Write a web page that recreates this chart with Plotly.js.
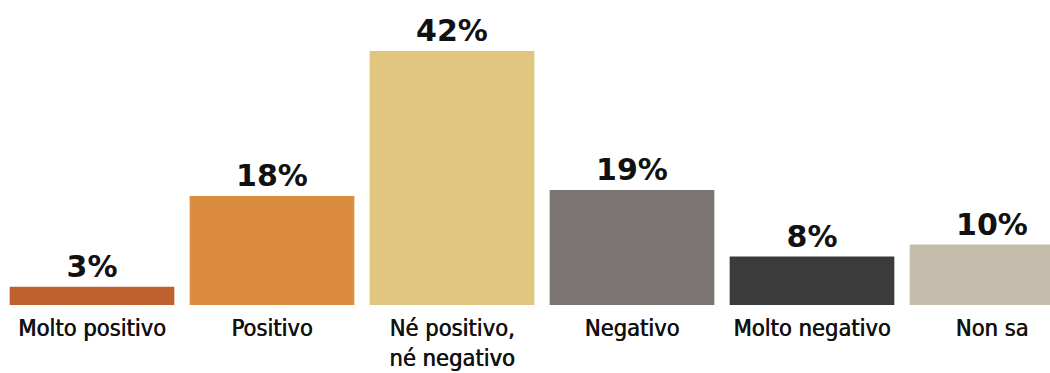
<!DOCTYPE html>
<html>
<head>
<meta charset="utf-8">
<script src="https://cdn.plot.ly/plotly-3.0.1.min.js"></script>
<style>
html,body{margin:0;padding:0;background:#fff;}
#chart{width:1050px;height:373px;}
</style>
</head>
<body>
<div id="chart"></div>
<script>
const categories = ["Molto positivo", "Positivo", "Né positivo,<br>né negativo", "Negativo", "Molto negativo", "Non sa"];
const values = [3, 18, 42, 19, 8, 10];
const labels = ["3%", "18%", "42%", "19%", "8%", "10%"];
const colors = ["#c06230", "#dc8c3f", "#e1c680", "#7b7573", "#3b3b3b", "#c5bcab"];

const xIdx = categories.map((c, i) => i);

const trace = {
  type: "bar",
  x: xIdx,
  y: values,
  text: labels,
  textposition: "outside",
  cliponaxis: false,
  textfont: {family: "DejaVu Sans", size: 30, color: "#111111", weight: "bold"},
  marker: {color: colors, line: {width: 0}},
  hoverinfo: "none"
};

const layout = {
  width: 1050,
  height: 373,
  margin: {l: 0, r: 0, t: 0, b: 68, pad: 0},
  paper_bgcolor: "#ffffff",
  plot_bgcolor: "#ffffff",
  showlegend: false,
  bargap: 0.085,
  xaxis: {
    range: [-92/180, (1050-92)/180],
    tickmode: "array",
    tickvals: xIdx,
    ticktext: categories,
    ticks: "",
    ticklabelstandoff: 6,
    showgrid: false,
    zeroline: false,
    showline: false,
    tickfont: {family: "DejaVu Sans Condensed, sans-serif", size: 23.5, color: "#111111", shadow: "0.6px 0 0 #111111"},
    fixedrange: true
  },
  yaxis: {
    range: [0, 305/6.05],
    visible: false,
    showgrid: false,
    zeroline: false,
    fixedrange: true
  }
};

Plotly.newPlot("chart", [trace], layout, {displayModeBar: false, staticPlot: true});
</script>
</body>
</html>
